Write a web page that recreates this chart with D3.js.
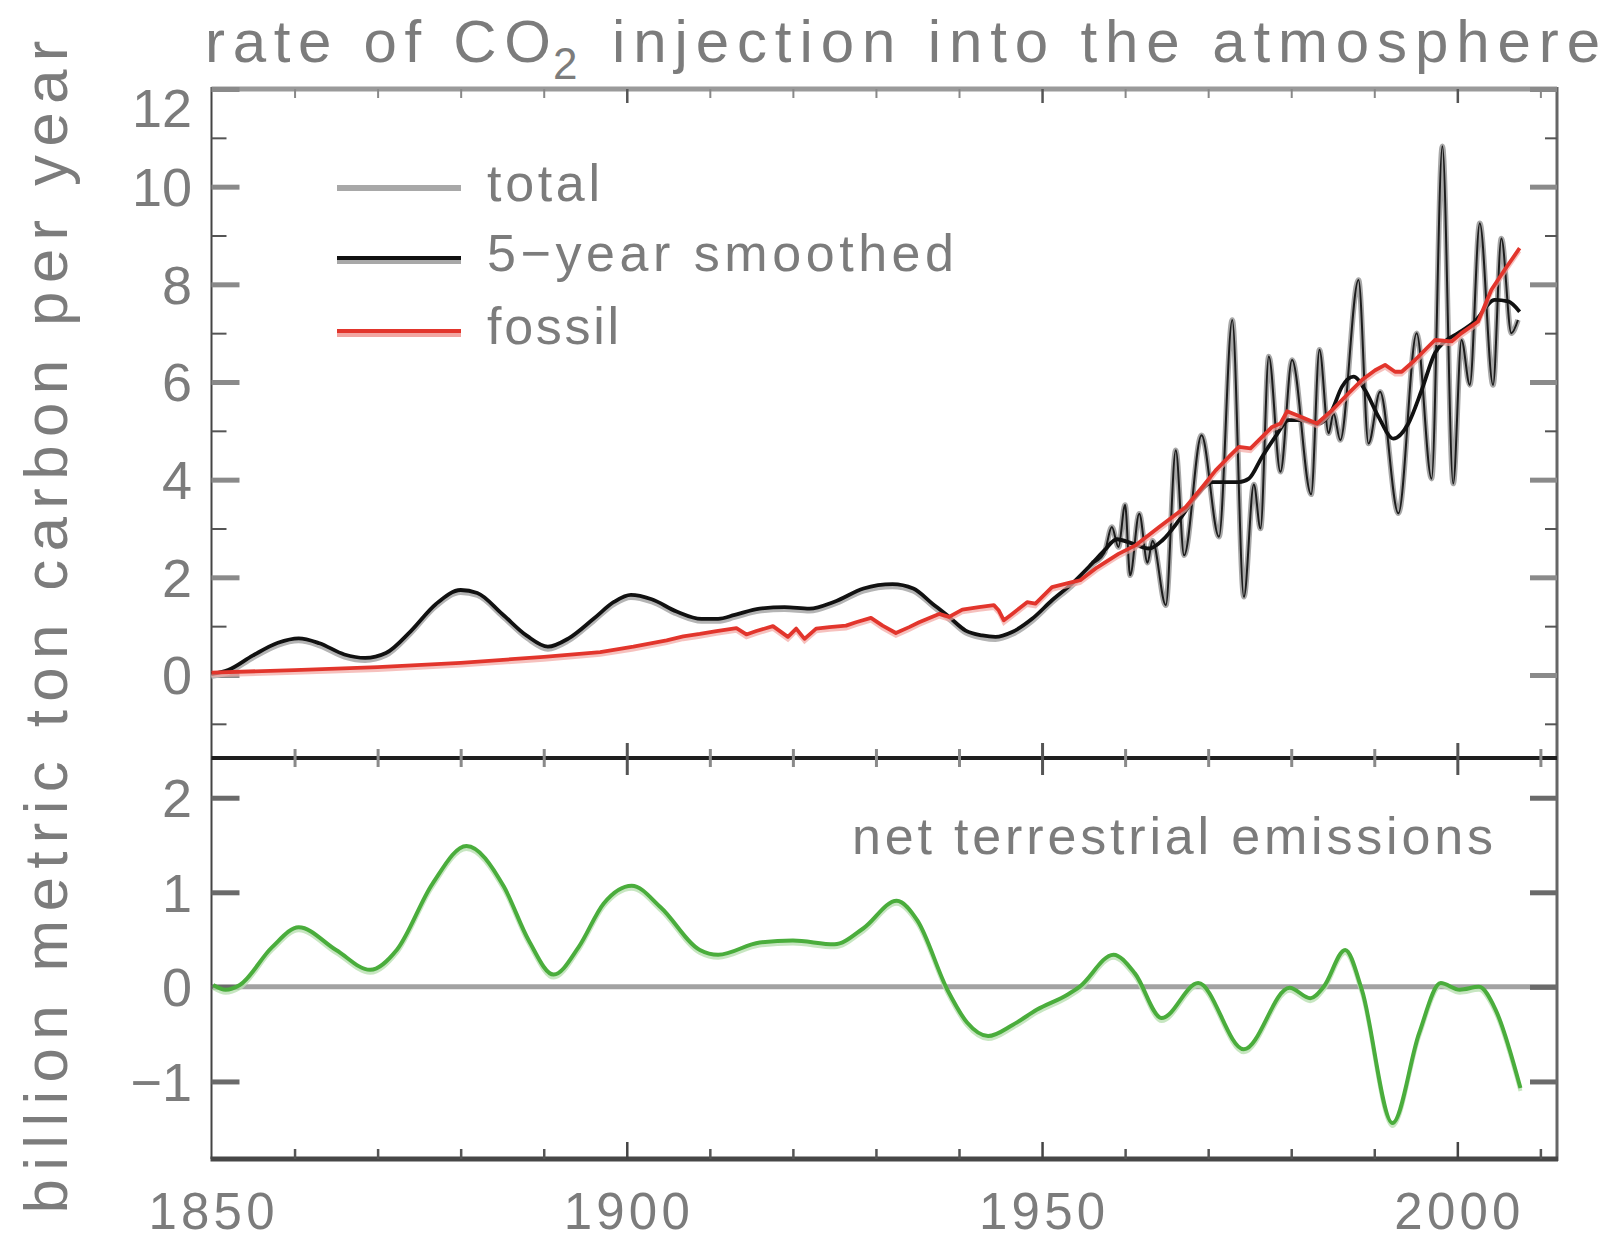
<!DOCTYPE html>
<html>
<head>
<meta charset="utf-8">
<script src="https://cdn.jsdelivr.net/npm/d3@7"></script>
<style>
  html, body { margin: 0; padding: 0; background: #fff; }
  svg { display: block; }
  text { font-family: "Liberation Sans", "DejaVu Sans", sans-serif; fill: #7c7c7c; }
</style>
</head>
<body>
<svg id="chart" width="1600" height="1243"></svg>
<script>
// ---------------- data ----------------
const smoothYears = [1850,1852,1855,1858,1860.5,1863,1866,1868.5,1871,1874,1877,1880,1882,1885,1888,1890.5,1893,1896,1898.5,1900.5,1903,1906,1909,1911,1913,1916,1919,1922,1925,1928.5,1932,1934.5,1936.8,1938.8,1940.8,1942.8,1944.4,1946.4,1948.8,1951.2,1953.6,1956,1957.5,1959,1960.9,1962.9,1964.5,1966.5,1968.5,1970.5,1973.7,1974.9,1976.5,1978.1,1979.7,1981.3,1983.2,1984.9,1986.1,1987.5,1988.9,1990.5,1992.3,1994.1,1995.7,1997.3,1998.5,2000.1,2002.1,2004.5,2006.1,2007.5];
const smoothValues = [0.02,0.1,0.4,0.66,0.75,0.65,0.42,0.35,0.45,0.9,1.45,1.74,1.68,1.25,0.8,0.58,0.75,1.15,1.5,1.64,1.55,1.3,1.15,1.15,1.23,1.36,1.39,1.36,1.5,1.77,1.86,1.77,1.46,1.19,0.91,0.81,0.78,0.88,1.15,1.53,1.87,2.28,2.55,2.78,2.69,2.59,2.76,3.17,3.65,3.95,3.95,4.02,4.47,4.88,5.22,5.22,5.14,5.42,5.9,6.11,5.83,5.29,4.84,5.15,5.83,6.59,6.83,7.0,7.24,7.68,7.65,7.44];

const fossilYears = [1850,1860,1870,1880,1890,1896.8,1900.8,1904.8,1906.8,1908.8,1910.8,1913.2,1914.4,1915.6,1917.6,1919.4,1920.4,1921.4,1922.8,1924.4,1926.4,1927.6,1929.4,1930.8,1932.4,1934,1935.2,1937.6,1938.8,1940.4,1942.4,1944.2,1944.8,1945.4,1946.4,1948.2,1949.2,1951.2,1953.6,1954.6,1956.6,1959.2,1961.3,1964.1,1967.3,1969.3,1970.9,1972.5,1973.7,1975.1,1976.1,1977.7,1978.7,1979.5,1981,1983.1,1984.9,1986.9,1988.5,1990.1,1991.3,1992.5,1993.3,1994.9,1997.3,1999.3,2000.5,2002.5,2004.1,2005.7,2007.5];
const fossilValues = [0.05,0.1,0.16,0.25,0.37,0.47,0.58,0.71,0.79,0.84,0.9,0.96,0.83,0.9,1.0,0.78,0.95,0.74,0.95,0.98,1.01,1.08,1.17,1.01,0.86,0.98,1.08,1.25,1.19,1.34,1.39,1.43,1.32,1.12,1.25,1.49,1.46,1.8,1.9,1.94,2.2,2.48,2.66,3.03,3.44,3.85,4.19,4.47,4.67,4.64,4.81,5.08,5.15,5.4,5.3,5.15,5.42,5.77,6.04,6.24,6.35,6.21,6.21,6.45,6.86,6.83,7.0,7.24,7.89,8.3,8.74];

const totalYears = [1956,1957.5,1958.4,1959.2,1960.0,1960.6,1961.7,1962.7,1963.3,1964.9,1966.1,1967.1,1969.2,1971.3,1972.9,1974.3,1975.5,1976.3,1977.3,1978.7,1980.1,1982.4,1983.4,1984.5,1985.1,1985.9,1988.1,1989.3,1990.7,1992.9,1995.1,1996.9,1998.2,1999.5,2000.5,2001.5,2002.7,2004.3,2005.3,2006.5,2007.3];
const totalValues = [2.28,2.5,3.03,2.62,3.48,2.04,3.3,2.3,2.75,1.43,4.6,2.45,4.91,2.83,7.27,1.6,3.9,3.0,6.52,4.16,6.45,3.7,6.66,4.95,5.36,4.81,8.09,4.74,5.8,3.31,7.0,4.02,10.83,3.92,6.86,5.94,9.25,5.94,8.94,7.0,7.27];

const netYears = [1850.2,1851.7,1853.4,1857.3,1860.5,1865,1869.1,1872.3,1876.6,1880.7,1885.2,1888.2,1891.2,1894.2,1897.2,1900.6,1904.1,1908.8,1911,1916,1920,1925,1928.5,1932.5,1935,1938.6,1941,1943.5,1946.5,1949.4,1953.1,1954.5,1958.6,1961.2,1964.4,1968.8,1974.3,1979.8,1982.3,1983.9,1986.5,1988.5,1992.2,1995.4,1998,2000.3,2002.6,2004.6,2007.6];
const netValues = [0.02,-0.03,0.02,0.42,0.63,0.39,0.18,0.39,1.09,1.49,1.06,0.49,0.13,0.42,0.88,1.07,0.84,0.39,0.34,0.47,0.49,0.45,0.62,0.91,0.7,-0.03,-0.38,-0.52,-0.4,-0.24,-0.08,0.0,0.34,0.14,-0.33,0.04,-0.66,-0.01,-0.12,0.0,0.39,-0.03,-1.44,-0.49,0.04,-0.03,0.0,-0.24,-1.07];

const topMajorTicks = [0,2,4,6,8,10,12];
const topMinorTicks = [-1,1,3,5,7,9,11];
const bottomMajorTicks = [-1,0,1,2];
const xMajorTicks = [1900,1950,2000];
const xMinorTicks = [1860,1870,1880,1890,1910,1920,1930,1940,1960,1970,1980,1990,2010];
const xLabelYears = [1850,1900,1950,2000];
const legendItems = ["total","5\u2212year smoothed","fossil"];

// ---------------- layout ----------------
const svg = d3.select("#chart");
const X0 = 211.5, X1 = 1557, YT = 89, YMID = 758, YB = 1159;
const x = d3.scaleLinear().domain([1850, 2012]).range([X0, X1]);
const yTop = d3.scaleLinear().domain([-1.7, 12]).range([YMID, YT]);
const yBot = d3.scaleLinear().domain([-1.82, 2.42]).range([YB, YMID]);

const zip = (xs, ys) => xs.map((d, i) => [d, ys[i]]);

function styleAxis(g, color, width) {
  g.select(".domain").remove();
  g.selectAll(".tick line").attr("stroke", color).attr("stroke-width", width);
  g.selectAll(".tick text").remove();
}

// zero line in bottom panel
svg.append("line").attr("x1", X0).attr("x2", X1)
  .attr("y1", yBot(0)).attr("y2", yBot(0))
  .attr("stroke", "#a2a2a2").attr("stroke-width", 5);

// ---------------- frame ----------------
svg.append("line").attr("x1", X0).attr("x2", X1).attr("y1", YT).attr("y2", YT)
  .attr("stroke", "#9a9a9a").attr("stroke-width", 5);
svg.append("line").attr("x1", X0).attr("x2", X0).attr("y1", YT - 2).attr("y2", YB)
  .attr("stroke", "#444").attr("stroke-width", 2);
svg.append("line").attr("x1", X1).attr("x2", X1).attr("y1", YT - 2).attr("y2", YB + 2)
  .attr("stroke", "#666").attr("stroke-width", 3);
svg.append("line").attr("x1", X0).attr("x2", X1).attr("y1", YMID).attr("y2", YMID)
  .attr("stroke", "#1e1e1e").attr("stroke-width", 4);
svg.append("line").attr("x1", X0 - 1).attr("x2", X1 + 1).attr("y1", YB).attr("y2", YB)
  .attr("stroke", "#474747").attr("stroke-width", 5);

// x ticks: top frame (inward = down)
svg.append("g").attr("transform", `translate(0,${YT})`)
  .call(d3.axisBottom(x).tickValues(xMinorTicks).tickSize(9)).call(g => styleAxis(g, "#888", 2));
svg.append("g").attr("transform", `translate(0,${YT})`)
  .call(d3.axisBottom(x).tickValues(xMajorTicks).tickSize(14)).call(g => styleAxis(g, "#555", 2.5));
// divider ticks (both sides)
svg.append("g").attr("transform", `translate(0,${YMID - 9})`)
  .call(d3.axisBottom(x).tickValues(xMinorTicks).tickSize(18)).call(g => styleAxis(g, "#8a8a8a", 3));
svg.append("g").attr("transform", `translate(0,${YMID - 15})`)
  .call(d3.axisBottom(x).tickValues(xMajorTicks).tickSize(32)).call(g => styleAxis(g, "#555", 3));
// bottom ticks (inward = up)
svg.append("g").attr("transform", `translate(0,${YB})`)
  .call(d3.axisTop(x).tickValues(xMinorTicks).tickSize(10)).call(g => styleAxis(g, "#555", 2.5));
svg.append("g").attr("transform", `translate(0,${YB})`)
  .call(d3.axisTop(x).tickValues(xMajorTicks).tickSize(17)).call(g => styleAxis(g, "#444", 2.5));

// y ticks top panel
svg.append("g").attr("transform", `translate(${X0},0)`)
  .call(d3.axisRight(yTop).tickValues(topMajorTicks).tickSize(28)).call(g => styleAxis(g, "#8a8a8a", 5));
svg.append("g").attr("transform", `translate(${X0},0)`)
  .call(d3.axisRight(yTop).tickValues(topMinorTicks).tickSize(15)).call(g => styleAxis(g, "#555", 2));
svg.append("g").attr("transform", `translate(${X1},0)`)
  .call(d3.axisLeft(yTop).tickValues(topMajorTicks).tickSize(27)).call(g => styleAxis(g, "#8a8a8a", 5));
svg.append("g").attr("transform", `translate(${X1},0)`)
  .call(d3.axisLeft(yTop).tickValues(topMinorTicks).tickSize(12)).call(g => styleAxis(g, "#555", 2));
// y ticks bottom panel
svg.append("g").attr("transform", `translate(${X0},0)`)
  .call(d3.axisRight(yBot).tickValues(bottomMajorTicks).tickSize(28)).call(g => styleAxis(g, "#6a6a6a", 5));
svg.append("g").attr("transform", `translate(${X1},0)`)
  .call(d3.axisLeft(yBot).tickValues(bottomMajorTicks).tickSize(27)).call(g => styleAxis(g, "#6a6a6a", 5));

// ---------------- tick labels ----------------
const labelFont = 54;
svg.append("g").selectAll("text").data(topMajorTicks).join("text")
  .attr("x", 192).attr("y", d => Math.max(yTop(d), 108))
  .attr("dy", "0.36em").attr("text-anchor", "end")
  .attr("font-size", labelFont).text(d => d);
svg.append("g").selectAll("text").data(bottomMajorTicks).join("text")
  .attr("x", 192).attr("y", d => yBot(d))
  .attr("dy", "0.36em").attr("text-anchor", "end")
  .attr("font-size", labelFont)
  .text(d => d < 0 ? "\u2212" + Math.abs(d) : d);
svg.append("g").selectAll("text").data(xLabelYears).join("text")
  .attr("x", d => x(d)).attr("y", 1229)
  .attr("text-anchor", "middle").attr("font-size", 51)
  .attr("textLength", 126).attr("lengthAdjust", "spacing")
  .text(d => d);

// ---------------- series ----------------
const lineTop = d3.line().x(d => x(d[0])).y(d => yTop(d[1])).curve(d3.curveMonotoneX);
const lineTopLin = d3.line().x(d => x(d[0])).y(d => yTop(d[1]));
const lineBot = d3.line().x(d => x(d[0])).y(d => yBot(d[1])).curve(d3.curveMonotoneX);

const smoothPts = zip(smoothYears, smoothValues);
const totalPts = zip(totalYears, totalValues);
const fossilPts = zip(fossilYears, fossilValues);
const netPts = zip(netYears, netValues);
const earlyTotal = smoothPts.filter(d => d[0] <= 1957.5);

// total (gray), early part coincides with the smoothed curve
svg.append("path").attr("d", lineTop(earlyTotal)).attr("transform", "translate(0,3)")
  .attr("fill", "none").attr("stroke", "#b4b4b4").attr("stroke-width", 4);
svg.append("path").attr("d", lineTop(totalPts))
  .attr("fill", "none").attr("stroke", "#a8a8a8").attr("stroke-width", 5.5).attr("stroke-linejoin", "round");
svg.append("path").attr("d", lineTop(totalPts))
  .attr("fill", "none").attr("stroke", "#1c1c1c").attr("stroke-width", 2).attr("stroke-linejoin", "round");

// 5-year smoothed
svg.append("path").attr("d", lineTop(smoothPts))
  .attr("fill", "none").attr("stroke", "#111").attr("stroke-width", 3.8).attr("stroke-linejoin", "round");

// fossil
svg.append("path").attr("d", lineTopLin(fossilPts)).attr("transform", "translate(0,3)")
  .attr("fill", "none").attr("stroke", "#f2a6a2").attr("stroke-width", 3.5).attr("opacity", 0.7);
svg.append("path").attr("d", lineTopLin(fossilPts))
  .attr("fill", "none").attr("stroke", "#e2352c").attr("stroke-width", 3.8).attr("stroke-linejoin", "round");

// net terrestrial
svg.append("path").attr("d", lineBot(netPts)).attr("transform", "translate(0,3)")
  .attr("fill", "none").attr("stroke", "#b9e0b2").attr("stroke-width", 4).attr("opacity", 0.8);
svg.append("path").attr("d", lineBot(netPts))
  .attr("fill", "none").attr("stroke", "#4aad3c").attr("stroke-width", 4).attr("stroke-linejoin", "round");

// ---------------- legend ----------------
const legY = [188, 258, 331];
const legColors = ["#a8a8a8", "#111", "#e2352c"];
const legShadow = [null, "#a8a8a8", "#f2a6a2"];
const legLen = [113, 467, 132];
legendItems.forEach((name, i) => {
  if (legShadow[i]) {
    svg.append("line").attr("x1", 337).attr("x2", 461).attr("y1", legY[i] + 4).attr("y2", legY[i] + 4)
      .attr("stroke", legShadow[i]).attr("stroke-width", 4);
  }
  svg.append("line").attr("x1", 337).attr("x2", 461).attr("y1", legY[i]).attr("y2", legY[i])
    .attr("stroke", legColors[i]).attr("stroke-width", i === 0 ? 6 : 4);
  svg.append("text").attr("x", 487).attr("y", legY[i] + 13)
    .attr("font-size", 52).attr("textLength", legLen[i]).attr("lengthAdjust", "spacing")
    .text(name);
});

// ---------------- titles ----------------
svg.append("text").attr("x", 205).attr("y", 62).attr("font-size", 60)
  .attr("textLength", 346).attr("lengthAdjust", "spacing").text("rate of CO");
svg.append("text").attr("x", 553).attr("y", 79).attr("font-size", 44).text("2");
svg.append("text").attr("x", 612).attr("y", 62).attr("font-size", 60)
  .attr("textLength", 988).attr("lengthAdjust", "spacing").text("injection into the atmosphere");

svg.append("text").attr("x", 852).attr("y", 854).attr("font-size", 52)
  .attr("textLength", 641).attr("lengthAdjust", "spacing").text("net terrestrial emissions");

svg.append("text").attr("transform", "translate(67,627) rotate(-90)")
  .attr("text-anchor", "middle").attr("font-size", 62)
  .attr("textLength", 1173).attr("lengthAdjust", "spacing")
  .text("billion metric ton carbon per year");
</script>
</body>
</html>
